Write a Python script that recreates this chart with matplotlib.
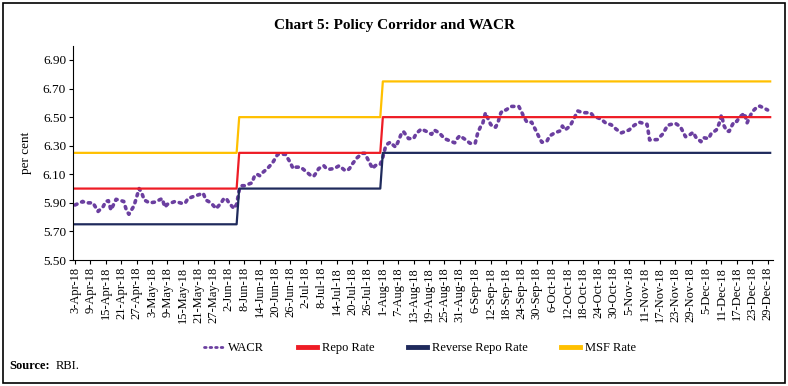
import matplotlib
matplotlib.use("Agg")
import matplotlib.pyplot as plt
from matplotlib.patches import Rectangle
import numpy as np
import pandas as pd

# 数据: WACR (day offset from 3-Apr-2018, per cent)
wacr_day = [0, 3, 4, 7, 8, 9, 11, 12, 13, 14, 16, 19, 20, 21, 23, 24, 25, 26, 27, 29,
            31, 34, 35, 36, 39, 42, 43, 44, 47, 50, 51, 53, 55, 57, 58, 59, 60, 62, 63, 64,
            65, 66, 69, 70, 71, 72, 73, 75, 77, 78, 79, 82, 83, 84, 85, 86, 88, 90, 92, 93,
            94, 95, 97, 98, 99, 101, 103, 105, 106, 107, 108, 110, 112, 113, 114, 115, 116, 117, 118, 119,
            120, 121, 122, 123, 124, 125, 126, 127, 128, 129, 130, 132, 133, 135, 137, 139, 140, 142, 144, 146,
            148, 149, 150, 152, 154, 156, 157, 158, 159, 160, 161, 162, 163, 164, 165, 166, 167, 168, 170, 173,
            174, 175, 176, 177, 178, 179, 180, 181, 182, 184, 185, 187, 189, 190, 191, 193, 194, 195, 196, 198,
            201, 202, 205, 207, 209, 211, 213, 216, 218, 220, 223, 224, 227, 229, 230, 231, 234, 236, 237, 238,
            239, 241, 242, 244, 245, 247, 248, 250, 251, 252, 253, 254, 255, 256, 257, 258, 259, 261, 262, 263,
            264, 266, 267, 270]
wacr_val = [5.885, 5.91, 5.90, 5.90, 5.87, 5.84, 5.875, 5.91, 5.915, 5.85, 5.925, 5.91, 5.85, 5.82, 5.88, 5.94, 6.00, 5.97, 5.92, 5.90,
            5.905, 5.93, 5.87, 5.89, 5.91, 5.895, 5.90, 5.93, 5.95, 5.967, 5.92, 5.90, 5.86, 5.90, 5.93, 5.93, 5.90, 5.86, 5.89, 5.99,
            6.02, 6.02, 6.04, 6.09, 6.10, 6.09, 6.11, 6.14, 6.18, 6.21, 6.24, 6.24, 6.21, 6.18, 6.14, 6.15, 6.15, 6.12, 6.09, 6.085,
            6.11, 6.14, 6.16, 6.14, 6.135, 6.14, 6.16, 6.13, 6.125, 6.14, 6.17, 6.216, 6.247, 6.247, 6.21, 6.175, 6.14, 6.16, 6.17, 6.17,
            6.22, 6.29, 6.315, 6.325, 6.305, 6.29, 6.33, 6.375, 6.40, 6.375, 6.35, 6.35, 6.385, 6.417, 6.40, 6.38, 6.41, 6.39, 6.35, 6.335,
            6.32, 6.35, 6.37, 6.345, 6.317, 6.317, 6.39, 6.43, 6.46, 6.53, 6.49, 6.45, 6.43, 6.43, 6.47, 6.53, 6.55, 6.55, 6.575, 6.575,
            6.54, 6.50, 6.47, 6.46, 6.465, 6.43, 6.394, 6.356, 6.324, 6.333, 6.368, 6.39, 6.403, 6.438, 6.41, 6.438, 6.473, 6.508, 6.543, 6.531,
            6.531, 6.508, 6.487, 6.457, 6.447, 6.415, 6.39, 6.41, 6.443, 6.464, 6.45, 6.34, 6.343, 6.38, 6.41, 6.443, 6.457, 6.433, 6.398, 6.363,
            6.368, 6.394, 6.36, 6.328, 6.356, 6.35, 6.385, 6.41, 6.45, 6.515, 6.44, 6.405, 6.40, 6.438, 6.47, 6.47, 6.50, 6.527, 6.46, 6.50,
            6.538, 6.573, 6.577, 6.55]

# 政策利率: 3-Apr-18 起, 6-Jun-18 和 1-Aug-18 各加 25bp
start = pd.Timestamp("2018-04-03")
end = pd.Timestamp("2018-12-30")
hike_dates = ["2018-06-06", "2018-08-01"]
repo_levels = [6.00, 6.25, 6.50]
reverse_repo_levels = [5.75, 6.00, 6.25]
msf_levels = [6.25, 6.50, 6.75]

days = pd.date_range(start, end, freq="D")
regime = np.searchsorted(pd.to_datetime(hike_dates).values, days.values, side="right")
repo = np.array(repo_levels)[regime]
reverse_repo = np.array(reverse_repo_levels)[regime]
msf = np.array(msf_levels)[regime]
wacr_dates = start + pd.to_timedelta(wacr_day, unit="D")

# 颜色
c_wacr = "#6B3FA0"
c_repo = "#EE1C25"
c_rrepo = "#1F2A5C"
c_msf = "#FFC000"

plt.rcParams["font.family"] = ["Liberation Serif", "DejaVu Serif"]

fig = plt.figure(figsize=(7.88, 3.86), dpi=100)
ax = fig.add_axes([0.0926, 0.3264, 0.8887, 0.5552])

ax.plot(wacr_dates, wacr_val, color=c_wacr, lw=2.6, linestyle=(0, (0.6, 1.4)),
        dash_capstyle="round", label="WACR")
ax.plot(days, repo, color=c_repo, lw=1.6, label="Repo Rate")
ax.plot(days, reverse_repo, color=c_rrepo, lw=1.6, label="Reverse Repo Rate")
ax.plot(days, msf, color=c_msf, lw=1.6, label="MSF Rate")

ax.set_ylim(5.5, 7.0)
ax.set_yticks(np.arange(5.5, 6.91, 0.2))
ax.set_yticklabels([f"{v:.2f}" for v in np.arange(5.5, 6.91, 0.2)], fontsize=9.5)
ax.set_xlim(start - pd.Timedelta(days=0.8), end + pd.Timedelta(days=1.2))

xt = pd.date_range(start, end, freq="6D")
ax.set_xticks(xt)
ax.set_xticklabels([f"{d.day}-{d.strftime('%b-%y')}" for d in xt], rotation=90, fontsize=9)

ax.spines["top"].set_visible(False)
ax.spines["right"].set_visible(False)
ax.tick_params(axis="both", direction="out", length=3, width=0.8, pad=2)
ax.set_ylabel("per cent", fontsize=9.5, labelpad=8)

fig.text(0.5, 0.935, "Chart 5: Policy Corridor and WACR", ha="center", va="center",
         fontsize=11, fontweight="bold")

leg = fig.legend(loc="center", bbox_to_anchor=(0.533, 0.098), ncol=4, frameon=False,
                 fontsize=9, handlelength=1.5, columnspacing=2.7, handletextpad=0.4)
leg.get_lines()[0].set_linewidth(2.0)
for h in leg.get_lines()[1:]:
    h.set_linewidth(3.5)

fig.text(0.012, 0.052, "Source:", fontsize=9, fontweight="bold", va="center")
fig.text(0.071, 0.052, "RBI.", fontsize=9, va="center")

fig.patches.append(Rectangle((0.004, 0.008), 0.992, 0.984, transform=fig.transFigure,
                             fill=False, edgecolor="black", lw=1.2))

fig.savefig("out.png", dpi=100)
